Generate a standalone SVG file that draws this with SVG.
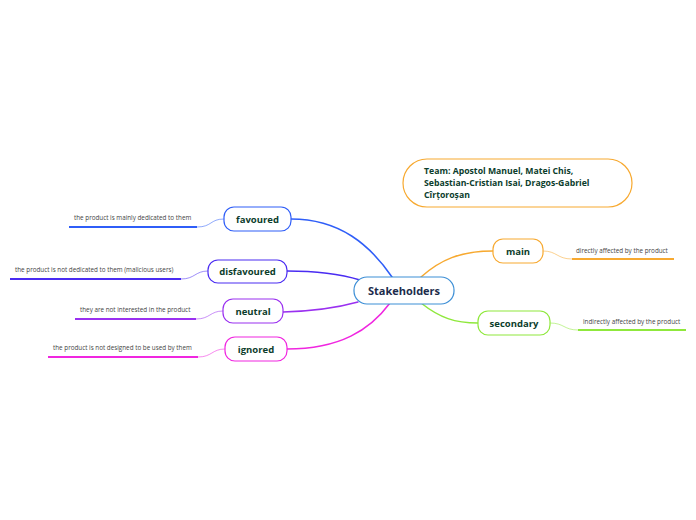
<svg xmlns="http://www.w3.org/2000/svg" width="696" height="520" viewBox="0 0 696 520">
<style>
.node{fill:#fff;stroke-width:1.2}
.nt{font-family:"Open Sans","Noto Sans",sans-serif;font-weight:bold;font-size:9.5px;fill:#0c3d2c;text-anchor:middle}
.lb{font-family:"Open Sans","Noto Sans",sans-serif;font-size:6.3px;fill:#444}
.c{fill:none;stroke-width:1.5;stroke-linecap:round}
.s{fill:none;stroke-width:0.9;opacity:0.6}
.u{fill:none;stroke-width:2}
</style>
<rect width="696" height="520" fill="#fff"/>
<g id="connectors">
<path class="c" stroke="#2f5ef8" d="M291,219 C340,219 370,245 392,277"/>
<path class="c" stroke="#4a2cf2" d="M287,271 C320,271 340,274 360,280"/>
<path class="c" stroke="#9a30f0" d="M283,312 C320,311 340,307 358,302"/>
<path class="c" stroke="#f026e0" d="M287,349 C340,349 370,330 390,303"/>
<path class="c" stroke="#f7a930" d="M421,277 C440,260 460,251 493,251"/>
<path class="c" stroke="#8fe83c" d="M421,303 C440,318 455,323 478,323"/>
<path class="s" stroke="#2f5ef8" d="M224,219 C210,219 212,227 197,227"/>
<path class="s" stroke="#4a2cf2" d="M208,271 C195,271 195,279 181,279"/>
<path class="s" stroke="#9a30f0" d="M223,311 C210,311 210,319 196,319"/>
<path class="s" stroke="#f026e0" d="M225,349 C212,349 212,357 198,357"/>
<path class="s" stroke="#f7a930" d="M543,251 C557,251 557,259 572,259"/>
<path class="s" stroke="#8fe83c" d="M550,323 C564,323 564,330 578,330"/>
<path class="u" stroke="#2f5ef8" d="M69,227 H197"/>
<path class="u" stroke="#4a2cf2" d="M10,279 H181"/>
<path class="u" stroke="#9a30f0" d="M75,319 H196"/>
<path class="u" stroke="#f026e0" d="M48,357 H198"/>
<path class="u" stroke="#f7a930" d="M572,259 H674"/>
<path class="u" stroke="#8fe83c" d="M578,330 H686"/>
</g>
<g id="team">
<rect class="node" x="403" y="159" width="229" height="48" rx="24" stroke="#f7a930"/>
<text font-family="'Open Sans','Noto Sans',sans-serif" font-weight="bold" font-size="8.7" fill="#0c3d2c">
<tspan x="424" y="174">Team: Apostol Manuel, Matei Chis,</tspan>
<tspan x="424" y="186">Sebastian-Cristian Isai, Dragos-Gabriel</tspan>
<tspan x="424" y="198">Cîrțoroșan</tspan>
</text>
</g>
<g id="stakeholders">
<rect class="node" x="354" y="277" width="100" height="27" rx="13" stroke="#3d8fd6"/>
<text x="404" y="295" font-family="'Open Sans','Noto Sans',sans-serif" font-weight="bold" font-size="11" fill="#1c2c4c" text-anchor="middle">Stakeholders</text>
</g>
<g id="favoured">
<rect class="node" x="224" y="207" width="67" height="24" rx="10" stroke="#2f5ef8"/>
<text class="nt" x="257.5" y="223">favoured</text>
<text class="lb" x="74" y="220">the product is mainly dedicated to them</text>
</g>
<g id="disfavoured">
<rect class="node" x="208" y="260" width="79" height="23" rx="10" stroke="#4a2cf2"/>
<text class="nt" x="247.5" y="275">disfavoured</text>
<text class="lb" x="15" y="272">the product is not dedicated to them (malicious users)</text>
</g>
<g id="neutral">
<rect class="node" x="223" y="299" width="60" height="24" rx="10" stroke="#9a30f0"/>
<text class="nt" x="253" y="314.5">neutral</text>
<text class="lb" x="80" y="312">they are not interested in the product</text>
</g>
<g id="ignored">
<rect class="node" x="225" y="337" width="62" height="24" rx="10" stroke="#f026e0"/>
<text class="nt" x="256" y="352.5">ignored</text>
<text class="lb" x="53" y="350">the product is not designed to be used by them</text>
</g>
<g id="main">
<rect class="node" x="493" y="239" width="50" height="24" rx="10" stroke="#f7a930"/>
<text class="nt" x="518" y="254.5">main</text>
<text class="lb" x="576" y="253">directly affected by the product</text>
</g>
<g id="secondary">
<rect class="node" x="478" y="311" width="72" height="24" rx="10" stroke="#8fe83c"/>
<text class="nt" x="514" y="326.5">secondary</text>
<text class="lb" x="583" y="324">indirectly affected by the product</text>
</g>
</svg>
